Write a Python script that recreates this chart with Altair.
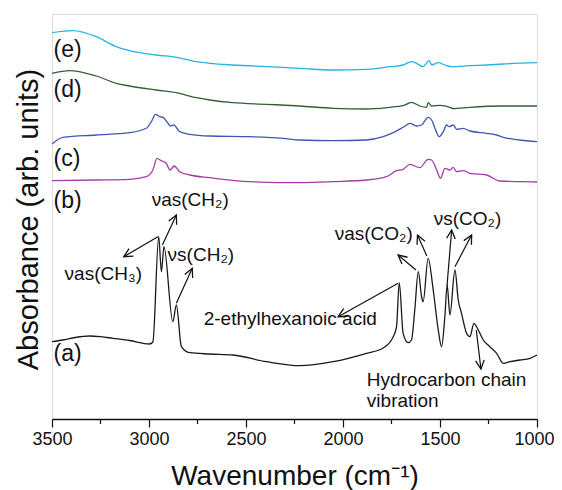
import math
import altair as alt
import pandas as pd

# ---------------- data ----------------
wn_a = [3500, 3444, 3380, 3306, 3250, 3186, 3100, 2997, 2980, 2950, 2936, 2923, 2877, 2859, 2833, 2790, 2687,
        2567, 2395, 2223, 2051, 1879, 1793, 1741, 1724, 1710, 1690, 1664, 1647, 1630, 1612,
        1595, 1587, 1561, 1535, 1509, 1492, 1475, 1463, 1449, 1423, 1406, 1389, 1363, 1346,
        1325, 1303, 1277, 1243, 1208, 1174, 1139, 1088, 1036, 1000]
ab_a = [0.773, 0.79, 0.815, 0.83, 0.823, 0.807, 0.785, 0.75, 0.77, 1.823, 1.473, 1.723, 0.973, 1.14, 0.723, 0.663, 0.65,
        0.64, 0.573, 0.533, 0.573, 0.657, 0.71, 0.823, 0.923, 1.363, 0.857, 0.763, 0.79, 1.09, 1.473,
        1.223, 1.173, 1.607, 1.29, 0.89, 0.723, 1.023, 1.34, 1.04, 1.49, 1.19, 1.057, 0.857, 0.823,
        0.957, 0.89, 0.79, 0.723, 0.657, 0.557, 0.573, 0.59, 0.607, 0.64]

wn_b = [3500, 3272, 3100, 3014, 2980, 2959, 2937, 2911, 2892, 2870, 2842, 2790, 2687, 2481,
        2223, 2051, 1879, 1776, 1724, 1690, 1655, 1604, 1561, 1543, 1517, 1497, 1475, 1449,
        1432, 1414, 1380, 1346, 1260, 1191, 1088, 1000]
ab_b = [2.383, 2.39, 2.397, 2.423, 2.49, 2.607, 2.583, 2.557, 2.49, 2.53, 2.473, 2.44, 2.413, 2.373,
        2.363, 2.373, 2.39, 2.423, 2.483, 2.497, 2.547, 2.513, 2.597, 2.59, 2.49, 2.407, 2.507, 2.49,
        2.517, 2.473, 2.483, 2.457, 2.44, 2.38, 2.373, 2.37]

wn_c = [3500, 3444, 3272, 3100, 3014, 2988, 2966, 2945, 2928, 2902, 2889, 2873, 2842, 2790,
        2687, 2481, 2309, 2223, 2051, 1879, 1793, 1741, 1690, 1655, 1621, 1595, 1561, 1543,
        1526, 1504, 1483, 1466, 1452, 1432, 1414, 1380, 1346, 1260, 1208, 1174, 1088, 1000]
ab_c = [2.75, 2.817, 2.84, 2.863, 2.907, 2.973, 3.047, 3.023, 3.017, 2.957, 2.93, 2.94, 2.873, 2.847,
        2.83, 2.823, 2.807, 2.79, 2.783, 2.79, 2.823, 2.863, 2.917, 2.957, 2.93, 2.94, 3.017, 2.99,
        2.907, 2.823, 2.873, 2.94, 2.923, 2.94, 2.897, 2.907, 2.88, 2.857, 2.84, 2.817, 2.79, 2.773]

wn_d = [3500, 3410, 3272, 3169, 3100, 2962, 2859, 2756, 2687, 2569, 2395, 2223, 2051, 1879,
        1759, 1690, 1647, 1604, 1569, 1561, 1543, 1500, 1449, 1432, 1346, 1174, 1000]
ab_d = [3.457, 3.483, 3.43, 3.357, 3.33, 3.29, 3.263, 3.213, 3.19, 3.163, 3.147, 3.13, 3.107, 3.10,
        3.117, 3.133, 3.167, 3.13, 3.117, 3.163, 3.13, 3.137, 3.117, 3.103, 3.117, 3.13, 3.13]

wn_e = [3500, 3393, 3272, 3169, 3100, 2962, 2859, 2756, 2687, 2569, 2395, 2223, 2053, 1879,
        1759, 1690, 1647, 1621, 1587, 1556, 1543, 1509, 1475, 1440, 1346, 1260, 1174, 1000]
ab_e = [3.863, 3.883, 3.823, 3.723, 3.683, 3.64, 3.617, 3.573, 3.557, 3.54, 3.523, 3.507, 3.49, 3.497,
        3.523, 3.54, 3.573, 3.557, 3.523, 3.583, 3.54, 3.563, 3.54, 3.523, 3.533, 3.54, 3.55, 3.563]

series_names = ["a", "b", "c", "d", "e"]
series_colors = ["#1a1a1a", "#a23fa6", "#4255b3", "#355e34", "#27b3e0"]

curve_labels = ["(a)", "(b)", "(c)", "(d)", "(e)"]
curve_label_wn = [3492, 3492, 3492, 3492, 3492]
curve_label_ab = [0.65, 2.18, 2.60, 3.29, 3.69]

annot_text = ["νas(CH₃)", "νas(CH₂)", "νs(CH₂)", "2-ethylhexanoic acid",
              "νas(CO₂)", "νs(CO₂)", "Hydrocarbon chain", "vibration"]
annot_wn = [3435, 2986, 2904, 2718, 2043, 1532, 1877, 1877]
annot_ab = [1.45, 2.19, 1.645, 1.00, 1.855, 2.005, 0.39, 0.18]

arrow_tail_wn = [2954, 2931, 2859, 1716, 1624, 1568, 1464, 1423, 1313]
arrow_tail_ab = [1.823, 1.74, 1.157, 1.357, 1.49, 1.63, 1.33, 1.523, 0.89]
arrow_head_wn = [3130, 2859, 2777, 2025, 1716, 1616, 1440, 1337, 1289]
arrow_head_ab = [1.623, 2.04, 1.507, 1.023, 1.64, 1.84, 1.89, 1.84, 0.50]

major_ticks = [3500, 3000, 2500, 2000, 1500, 1000]
minor_ticks = [3250, 2750, 2250, 1750, 1250]

# ---------------- build ----------------
W, H = 485, 405
WN_MIN, WN_MAX = 1000, 3500
AB_MAX = 4.05
FONT = "Liberation Sans"

rows = []
for name, wns, abs_ in zip(series_names,
                           [wn_a, wn_b, wn_c, wn_d, wn_e],
                           [ab_a, ab_b, ab_c, ab_d, ab_e]):
    for i, (w, a) in enumerate(zip(wns, abs_)):
        rows.append({"series": name, "wn": w, "ab": a, "idx": i})
curves = pd.DataFrame(rows)

xscale = alt.Scale(domain=[WN_MIN, WN_MAX], reverse=True, nice=False, zero=False)
yscale = alt.Scale(domain=[0, AB_MAX], nice=False, zero=False)

xaxis = alt.Axis(values=major_ticks, format="d", grid=False, tickSize=8, tickWidth=1.2,
                 tickColor="#111", domainColor="#111", domainWidth=1.5,
                 labelFontSize=18, labelColor="#111", labelPadding=3, labelFlush=False,
                 labelOverlap=False, labelFont=FONT,
                 labelOffset={"condition": {"test": "datum.value === 1000", "value": -3}, "value": 0},
                 title="Wavenumber (cm⁻¹)", titleFontSize=28, titleFontWeight="normal",
                 titleFont=FONT, titleColor="#111", titleBaseline="alphabetic", titleY=65)
yaxis = alt.Axis(labels=False, ticks=False, domain=False, grid=False,
                 title="Absorbance (arb. units)", titleFontSize=29, titleFontWeight="normal",
                 titleFont=FONT, titleColor="#111", titleAngle=270, titleAlign="center",
                 titleBaseline="alphabetic", titleX=-15, titleY=205)

X = alt.X("wn:Q", scale=xscale, axis=xaxis)
Y = alt.Y("ab:Q", scale=yscale, axis=yaxis)

lines = alt.Chart(curves).mark_line(strokeWidth=1.3, interpolate="monotone").encode(
    x=X, y=Y,
    color=alt.Color("series:N", scale=alt.Scale(domain=series_names, range=series_colors), legend=None),
    order=alt.Order("idx:Q"),
    detail="series:N",
)

minor = alt.Chart(pd.DataFrame({"wn": minor_ticks})).mark_rule(
    color="#111", strokeWidth=1.2, clip=False
).encode(x=X, y=alt.value(H), y2=alt.value(H + 5))

arrows = pd.DataFrame({"wn": arrow_tail_wn, "ab": arrow_tail_ab,
                       "wn2": arrow_head_wn, "ab2": arrow_head_ab})
shafts = alt.Chart(arrows).mark_rule(color="#111", strokeWidth=1.2).encode(
    x=X, y=Y, x2="wn2:Q", y2="ab2:Q")

angles = []
for wt, at, wh, ah in zip(arrow_tail_wn, arrow_tail_ab, arrow_head_wn, arrow_head_ab):
    dx = (wt - wh) * W / (WN_MAX - WN_MIN)
    dy = (at - ah) * H / AB_MAX
    angles.append(math.degrees(math.atan2(dy, dx)) % 360)
heads_df = pd.DataFrame({"wn": arrow_head_wn, "ab": arrow_head_ab, "ang": angles})
heads = alt.Chart(heads_df).mark_point(
    shape="M -1 -0.5 L 0 0 L -1 0.5", filled=False, size=300, strokeWidth=1.3,
    color="#111", opacity=1
).encode(x=X, y=Y, angle=alt.Angle("ang:Q", scale=None))

annot = alt.Chart(pd.DataFrame({"wn": annot_wn, "ab": annot_ab, "t": annot_text})).mark_text(
    align="left", baseline="middle", fontSize=19, font=FONT, color="#111"
).encode(x=X, y=Y, text="t:N")

clabels = alt.Chart(pd.DataFrame({"wn": curve_label_wn, "ab": curve_label_ab, "t": curve_labels})).mark_text(
    align="left", baseline="middle", fontSize=23, font=FONT, color="#111"
).encode(x=X, y=Y, text="t:N")

chart = alt.layer(lines, minor, shafts, heads, annot, clabels).properties(
    width=W, height=H,
    autosize=alt.AutoSizeParams(type="none"),
    padding={"left": 44, "top": 6, "right": 17, "bottom": 78},
).configure_view(stroke="#333", strokeWidth=1.5).configure(font=FONT)

chart.save("out.html", embed_options={"renderer": "svg", "actions": False})
